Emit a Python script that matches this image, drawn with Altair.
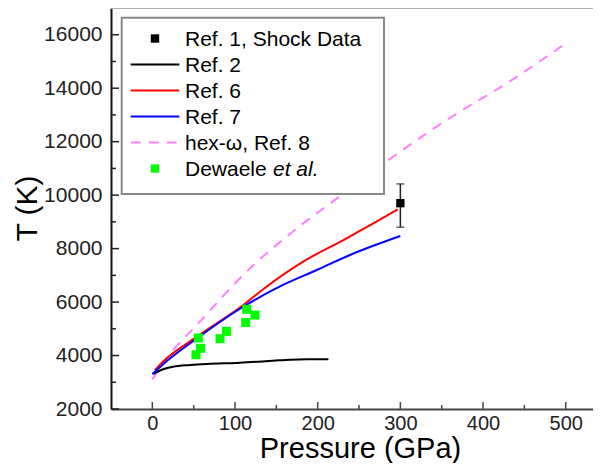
import altair as alt
import pandas as pd

# ---- data ----
P_ref2 = [1, 13, 25, 46, 66, 106, 146, 167, 187, 213]
T_ref2 = [3310, 3485, 3580, 3645, 3685, 3730, 3805, 3845, 3860, 3860]

P_ref6 = [3, 15, 54, 110, 138, 179, 231, 271, 297]
T_ref6 = [3450, 3830, 4705, 5890, 6575, 7450, 8320, 9005, 9470]

P_ref7 = [0, 19, 54, 110, 158, 199, 239, 300]
T_ref7 = [3300, 3830, 4645, 5825, 6640, 7200, 7760, 8470]

P_ref8 = [0, 25, 50, 118, 175, 229, 283, 356, 436, 499]
T_ref8 = [3110, 4200, 5020, 7260, 8760, 10005, 11250, 12810, 14330, 15655]

P_dew = [55.6, 58.3, 52.8, 81.9, 89.7, 114.1, 124.2, 112.9]
T_dew = [4655, 4270, 4030, 4630, 4905, 5730, 5515, 5235]

P_shock = [300]
T_shock = [9700]
T_shock_lo = [8800]
T_shock_hi = [10420]

x_major = [0, 100, 200, 300, 400, 500]
x_minor = [50, 150, 250, 350, 450]
y_major = [2000, 4000, 6000, 8000, 10000, 12000, 14000, 16000]
y_minor = [3000, 5000, 7000, 9000, 11000, 13000, 15000]

legend_labels = ["Ref. 1, Shock Data", "Ref. 2", "Ref. 6", "Ref. 7", "hex-\u03c9, Ref. 8", "Dewaele"]
legend_colors = ["black", "black", "#ff0000", "#0000ff", "#ff80ff", "#00ff00"]

# ---- layout ----
W, H = 482, 401
FONT = "Liberation Sans"
xs = alt.Scale(domain=[-50, 533], nice=False, zero=False)
ys = alt.Scale(domain=[2000, 17000], nice=False, zero=False)

xax = alt.Axis(values=x_major, tickSize=0, labelPadding=4, labelFontSize=20, labelFont=FONT,
               labelColor="#222", domainColor="#444", domainWidth=2, grid=False,
               title="Pressure (GPa)", titleFontSize=29, titleFont=FONT, titleFontWeight="normal",
               titleColor="black", titleX=249, titleY=48, titleBaseline="alphabetic", format="d")
yax = alt.Axis(values=y_major, tickSize=0, labelPadding=9, labelFontSize=21, labelFont=FONT,
               labelColor="#222", domainColor="#111", domainWidth=2, grid=False,
               title="T (K)", titleFontSize=30, titleFont=FONT, titleFontWeight="normal",
               titleColor="black", titleX=-75, titleY=200, titleAngle=-90,
               titleBaseline="alphabetic", titleAlign="center", format="d")


def X(f):
    return alt.X(f, type="quantitative", scale=xs, axis=xax)


def Y(f):
    return alt.Y(f, type="quantitative", scale=ys, axis=yax)


def line_df(P, T):
    return pd.DataFrame({"P": P, "T": T})


ref8 = alt.Chart(line_df(P_ref8, T_ref8)).mark_line(
    color="#ff80ff", strokeWidth=2, strokeDash=[10, 8], interpolate="monotone").encode(x=X("P"), y=Y("T"))
ref2 = alt.Chart(line_df(P_ref2, T_ref2)).mark_line(
    color="black", strokeWidth=2, interpolate="monotone").encode(x=X("P"), y=Y("T"))
ref6 = alt.Chart(line_df(P_ref6, T_ref6)).mark_line(
    color="#ff0000", strokeWidth=2, interpolate="monotone").encode(x=X("P"), y=Y("T"))
ref7 = alt.Chart(line_df(P_ref7, T_ref7)).mark_line(
    color="#0000ff", strokeWidth=2, interpolate="monotone").encode(x=X("P"), y=Y("T"))
dew = alt.Chart(line_df(P_dew, T_dew)).mark_square(
    color="#00ff00", size=81, opacity=1).encode(x=X("P"), y=Y("T"))

shock_df = pd.DataFrame({"P": P_shock, "T": T_shock, "lo": T_shock_lo, "hi": T_shock_hi})
shock_err = alt.Chart(shock_df).mark_rule(color="#222", strokeWidth=1.5).encode(
    x=X("P"), y=Y("lo"), y2="hi")
shock_cap_hi = alt.Chart(shock_df).mark_tick(color="#222", thickness=1.5, size=8, orient="horizontal").encode(
    x=X("P"), y=Y("hi"))
shock_cap_lo = alt.Chart(shock_df).mark_tick(color="#222", thickness=1.5, size=8, orient="horizontal").encode(
    x=X("P"), y=Y("lo"))
shock_pt = alt.Chart(shock_df).mark_square(color="black", size=70, opacity=1).encode(
    x=X("P"), y=Y("T"))

# inward ticks
xt_major = alt.Chart(pd.DataFrame({"v": x_major})).mark_rule(color="#444", strokeWidth=1.5).encode(
    x=X("v"), y=alt.value(H), y2=alt.value(H - 7))
xt_minor = alt.Chart(pd.DataFrame({"v": x_minor})).mark_rule(color="#444", strokeWidth=1.5).encode(
    x=X("v"), y=alt.value(H), y2=alt.value(H - 4))
yt_major = alt.Chart(pd.DataFrame({"v": y_major})).mark_rule(color="#222", strokeWidth=1.5).encode(
    y=Y("v"), x=alt.value(0), x2=alt.value(8))
yt_minor = alt.Chart(pd.DataFrame({"v": y_minor})).mark_rule(color="#222", strokeWidth=1.5).encode(
    y=Y("v"), x=alt.value(0), x2=alt.value(5))

one = pd.DataFrame({"a": [0]})
top_line = alt.Chart(one).mark_rule(color="#b0b0b0", strokeWidth=2).encode(
    x=alt.value(0), x2=alt.value(W), y=alt.value(0))

# ---- legend ----
leg = pd.DataFrame({"label": legend_labels, "color": legend_colors,
                    "row": list(range(len(legend_labels)))})
leg["ypix"] = 30.5 + 26 * leg["row"]

leg_box = alt.Chart(one).mark_rect(fill="white", stroke="#888", strokeWidth=2).encode(
    x=alt.value(10.7), x2=alt.value(273), y=alt.value(9.7), y2=alt.value(186))
leg_text = alt.Chart(leg).mark_text(align="left", baseline="middle", font=FONT, fontSize=21,
                                    color="black", dy=1).encode(
    x=alt.value(74), y=alt.Y("ypix:Q", scale=None), text="label:N")
leg_etal = alt.Chart(leg[leg["row"] == 5]).mark_text(align="left", baseline="middle", font=FONT,
                                                     fontSize=21, fontStyle="italic", color="black",
                                                     dy=1).encode(
    x=alt.value(162), y=alt.Y("ypix:Q", scale=None), text=alt.value("et al."))
leg_lines = alt.Chart(leg[leg["row"].isin([1, 2, 3])]).mark_rule(strokeWidth=2).encode(
    x=alt.value(19.7), x2=alt.value(68.3), y=alt.Y("ypix:Q", scale=None),
    color=alt.Color("color:N", scale=None))
leg_dash = alt.Chart(leg[leg["row"] == 4]).mark_rule(strokeWidth=2, strokeDash=[10, 8]).encode(
    x=alt.value(19.7), x2=alt.value(68.3), y=alt.Y("ypix:Q", scale=None),
    color=alt.Color("color:N", scale=None))
leg_sq = alt.Chart(leg[leg["row"].isin([0, 5])]).mark_square(size=70, opacity=1).encode(
    x=alt.value(44), y=alt.Y("ypix:Q", scale=None), color=alt.Color("color:N", scale=None))

chart = alt.layer(
    xt_major, xt_minor, yt_major, yt_minor, top_line,
    ref8, ref2, ref6, ref7, dew,
    shock_err, shock_cap_hi, shock_cap_lo, shock_pt,
    leg_box, leg_lines, leg_dash, leg_sq, leg_text, leg_etal,
).properties(
    width=W, height=H,
    autosize=alt.AutoSizeParams(type="none"),
    padding={"left": 103, "top": 0, "right": 0, "bottom": 54},
    background="white",
).configure_view(stroke=None)

chart.save("out.html", embed_options={"renderer": "svg", "actions": False})
